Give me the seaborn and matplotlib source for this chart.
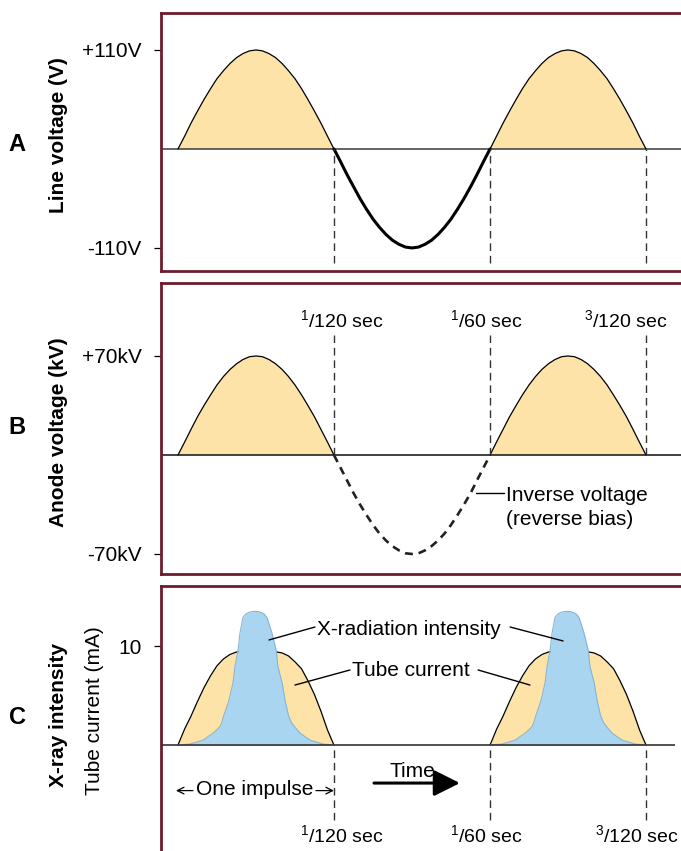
import numpy as np
import pandas as pd
import matplotlib
matplotlib.use('Agg')
import matplotlib.pyplot as plt
import seaborn as sns

# one and a half cycles of 60 Hz mains, time in ms
time_ms = [0.0, 0.35, 0.69, 1.04, 1.39, 1.74, 2.08, 2.43, 2.78, 3.13, 3.47, 3.82, 4.17,
           4.51, 4.86, 5.21, 5.56, 5.90, 6.25, 6.60, 6.94, 7.29, 7.64, 7.99, 8.33,
           8.68, 9.03, 9.38, 9.72, 10.07, 10.42, 10.76, 11.11, 11.46, 11.81, 12.15, 12.5,
           12.85, 13.19, 13.54, 13.89, 14.24, 14.58, 14.93, 15.28, 15.63, 15.97, 16.32, 16.67,
           17.01, 17.36, 17.71, 18.06, 18.40, 18.75, 19.10, 19.44, 19.79, 20.14, 20.49, 20.83,
           21.18, 21.53, 21.88, 22.22, 22.57, 22.92, 23.26, 23.61, 23.96, 24.31, 24.65, 25.0]
line_volts = [0, 14, 28.5, 42, 55, 67, 78, 87, 95, 101.5, 106, 109, 110,
              109, 106, 101.5, 95, 87, 78, 67, 55, 42, 28.5, 14, 0,
              -14, -28.5, -42, -55, -67, -78, -87, -95, -101.5, -106, -109, -110,
              -109, -106, -101.5, -95, -87, -78, -67, -55, -42, -28.5, -14, 0,
              14, 28.5, 42, 55, 67, 78, 87, 95, 101.5, 106, 109, 110,
              109, 106, 101.5, 95, 87, 78, 67, 55, 42, 28.5, 14, 0]
anode_kv = [0, 9, 18, 27, 35, 42.5, 49.5, 55.5, 60.5, 64.5, 67.5, 69.5, 70,
            69.5, 67.5, 64.5, 60.5, 55.5, 49.5, 42.5, 35, 27, 18, 9, 0,
            -9, -18, -27, -35, -42.5, -49.5, -55.5, -60.5, -64.5, -67.5, -69.5, -70,
            -69.5, -67.5, -64.5, -60.5, -55.5, -49.5, -42.5, -35, -27, -18, -9, 0,
            9, 18, 27, 35, 42.5, 49.5, 55.5, 60.5, 64.5, 67.5, 69.5, 70,
            69.5, 67.5, 64.5, 60.5, 55.5, 49.5, 42.5, 35, 27, 18, 9, 0]

# one exposure pulse, time from pulse start (ms)
pulse_start_ms = [0.0, 16.67]
pulse_time_ms = [0.0, 0.35, 0.69, 1.04, 1.39, 1.74, 2.08, 2.43, 2.78, 3.13, 3.47, 3.82, 4.17,
                 4.51, 4.86, 5.21, 5.56, 5.90, 6.25, 6.60, 6.94, 7.29, 7.64, 7.99, 8.33]
tube_ma = [0, 1.6, 2.9, 4.4, 5.8, 7.0, 8.0, 8.7, 9.15, 9.4, 9.5, 9.58, 9.6,
           9.58, 9.52, 9.42, 9.3, 9.0, 8.4, 7.7, 6.5, 5.1, 3.4, 1.5, 0]
xray_time_ms = [0.0, 0.64, 1.34, 1.87, 2.05, 2.24, 2.34, 2.45, 2.72, 2.94, 3.04, 3.21, 3.31,
                3.47, 3.63, 3.79, 3.95, 4.11, 4.27, 4.43, 4.59, 4.75, 5.02, 5.24, 5.34,
                5.56, 5.72, 5.90, 6.05, 6.25, 6.52, 7.05, 7.75, 8.33]
xray_ma = [0, 0.1, 0.5, 1.2, 1.5, 1.85, 2.3, 3.0, 4.5, 6.3, 7.9, 9.6, 11.3,
           12.9, 13.25, 13.4, 13.48, 13.5, 13.48, 13.4, 13.25, 12.9, 11.3, 9.6, 7.9,
           6.3, 4.5, 3.0, 2.3, 1.8, 1.2, 0.5, 0.1, 0]

sec_marks_ms = [8.33, 16.67, 25.0]
sec_labels = [r'${}^{1}$/120 sec', r'${}^{1}$/60 sec', r'${}^{3}$/120 sec']

MAROON = '#6b1d2e'
YELLOW = '#fde3a7'
BLUE = '#a9d5f1'
DASH = (0, (5.5, 3.5))

sns.set_style('white')
plt.rcParams['font.family'] = ['Liberation Sans', 'DejaVu Sans']
plt.rcParams['text.color'] = 'black'
plt.rcParams['ytick.color'] = 'black'
plt.rcParams['ytick.labelcolor'] = 'black'
plt.rcParams['mathtext.fontset'] = 'custom'
plt.rcParams['mathtext.rm'] = 'Liberation Sans'
plt.rcParams['mathtext.it'] = 'Liberation Sans:italic'
plt.rcParams['mathtext.bf'] = 'Liberation Sans:bold'

W, H = 681, 851
fig = plt.figure(figsize=(W / 100, H / 100), dpi=100)


def panel(top, bottom, ylim, bottom_spine=True):
    ax = fig.add_axes([161 / W, 1 - bottom / H, (W - 161) / W, (bottom - top) / H])
    for side in ['left', 'top', 'bottom']:
        ax.spines[side].set_color(MAROON)
        ax.spines[side].set_linewidth(2.0)
    ax.spines['right'].set_visible(False)
    if not bottom_spine:
        ax.spines['bottom'].set_visible(False)
    ax.set_xlim(-0.908, 26.87)
    ax.set_ylim(*ylim)
    ax.set_xticks([])
    ax.tick_params(axis='y', left=True, length=5, width=0.9, color='black',
                   labelcolor='black', pad=9, labelsize=15, direction='out')
    return ax


volts = pd.DataFrame({'t': time_ms, 'line': line_volts, 'anode': anode_kv})
halves = [volts.iloc[0:25], volts.iloc[24:49], volts.iloc[48:73]]

# ---- A: line voltage
ax_a = panel(12.7, 271, (-135.6, 151.4))
ax_a.fill_between(volts['t'], 0, volts['line'], where=volts['line'] >= 0, color=YELLOW, lw=0)
for i, h in enumerate(halves):
    sns.lineplot(data=h, x='t', y='line', ax=ax_a, color='black',
                 lw=2.2 if i == 1 else 0.9, estimator=None, sort=False)
ax_a.axhline(0, color='#3a3a3a', lw=1.1, zorder=1)
ax_a.vlines(sec_marks_ms, -126.7, 0, colors='#333333', lw=1, linestyles=DASH)
ax_a.set_yticks([110, -110], ['+110V', '-110V'])
ax_a.set_xlabel('')
ax_a.set_ylabel('')

# ---- B: anode voltage
ax_b = panel(283, 573.5, (-83.8, 121.6))
ax_b.fill_between(volts['t'], 0, volts['anode'], where=volts['anode'] >= 0, color=YELLOW, lw=0)
for i, h in enumerate(halves):
    if i == 1:
        sns.lineplot(data=h, x='t', y='anode', ax=ax_b, color='#222222', lw=1.9,
                     linestyle=(0, (3.0, 2.2)), estimator=None, sort=False)
    else:
        sns.lineplot(data=h, x='t', y='anode', ax=ax_b, color='black', lw=0.9,
                     estimator=None, sort=False)
ax_b.axhline(0, color='#222222', lw=1.2, zorder=1)
ax_b.vlines(sec_marks_ms, 0, 84.9, colors='#333333', lw=1, linestyles=DASH)
for x, lab in zip([6.52, 14.53, 21.69], sec_labels):
    ax_b.text(x, 90.5, lab, fontsize=14, ha='left', va='baseline')
ax_b.plot([15.92, 17.41], [-26.9, -26.9], color='black', lw=1)
ax_b.text(17.52, -32.5, 'Inverse voltage', fontsize=15, va='baseline')
ax_b.text(17.52, -49.5, '(reverse bias)', fontsize=15, va='baseline')
ax_b.set_yticks([70, -70], ['+70kV', '-70kV'])
ax_b.set_xlabel('')
ax_b.set_ylabel('')

# ---- C: tube current and x-ray intensity
ax_c = panel(586, 851, (-10.7, 16.06), bottom_spine=False)
for start in pulse_start_ms:
    tc = pd.DataFrame({'t': np.array(pulse_time_ms) + start, 'mA': tube_ma})
    xr = pd.DataFrame({'t': np.array(xray_time_ms) + start, 'mA': xray_ma})
    ax_c.fill_between(tc['t'], 0, tc['mA'], color=YELLOW, lw=0, zorder=1)
    sns.lineplot(data=tc, x='t', y='mA', ax=ax_c, color='black', lw=0.9,
                 estimator=None, sort=False, zorder=2)
    ax_c.fill_between(xr['t'], 0, xr['mA'], color=BLUE, lw=0, zorder=3)
    sns.lineplot(data=xr, x='t', y='mA', ax=ax_c, color='#86b6d6', lw=0.8,
                 estimator=None, sort=False, zorder=3)
ax_c.hlines(0, -0.908, 26.55, colors='#333333', lw=1.2, zorder=4)
ax_c.vlines(sec_marks_ms, -7.6, 0, colors='#333333', lw=1, linestyles=DASH)
for x, lab in zip([6.52, 14.53, 22.28], sec_labels):
    ax_c.text(x, -9.8, lab, fontsize=14, ha='left', va='baseline')

ax_c.text(7.43, 11.1, 'X-radiation intensity', fontsize=15, va='baseline')
ax_c.plot([7.32, 4.86], [11.92, 10.61], color='black', lw=1, zorder=5)
ax_c.plot([17.74, 20.57], [11.92, 10.51], color='black', lw=1, zorder=5)
ax_c.text(9.29, 6.97, 'Tube current', fontsize=15, va='baseline')
ax_c.plot([9.19, 6.25], [7.58, 6.06], color='black', lw=1, zorder=5)
ax_c.plot([16.03, 18.8], [7.58, 6.06], color='black', lw=1, zorder=5)

ax_c.text(12.5, -3.23, 'Time', fontsize=15, ha='center', va='baseline')
ax_c.annotate('', xy=(15.06, -3.84), xytext=(10.47, -3.84),
              arrowprops=dict(arrowstyle='-|>,head_length=0.8,head_width=0.4', lw=2.2,
                              color='black', shrinkA=0, shrinkB=0, mutation_scale=20))
ax_c.text(4.09, -5.0, 'One impulse', fontsize=15, ha='center', va='baseline')
ax_c.annotate('', xy=(-0.11, -4.6), xytext=(0.8, -4.6),
              arrowprops=dict(arrowstyle='->,head_length=0.4,head_width=0.2', lw=0.9,
                              color='black', shrinkA=0, shrinkB=0, mutation_scale=12))
ax_c.annotate('', xy=(8.33, -4.6), xytext=(7.37, -4.6),
              arrowprops=dict(arrowstyle='->,head_length=0.4,head_width=0.2', lw=0.9,
                              color='black', shrinkA=0, shrinkB=0, mutation_scale=12))
ax_c.set_yticks([10], ['10'])
ax_c.set_xlabel('')
ax_c.set_ylabel('')

# side labels
fig.text(58 / W, 1 - 135 / H, 'Line voltage (V)', rotation=90, fontsize=15,
         fontweight='bold', ha='center', va='center')
fig.text(58 / W, 1 - 432 / H, 'Anode voltage (kV)', rotation=90, fontsize=15,
         fontweight='bold', ha='center', va='center')
fig.text(58 / W, 1 - 715 / H, 'X-ray intensity', rotation=90, fontsize=15,
         fontweight='bold', ha='center', va='center')
fig.text(94 / W, 1 - 711 / H, 'Tube current (mA)', rotation=90, fontsize=15,
         ha='center', va='center')
for letter, y in [('A', 144), ('B', 427), ('C', 718)]:
    fig.text(17 / W, 1 - y / H, letter, fontsize=17, fontweight='bold',
             ha='center', va='center')

fig.savefig('out.png', dpi=100)
